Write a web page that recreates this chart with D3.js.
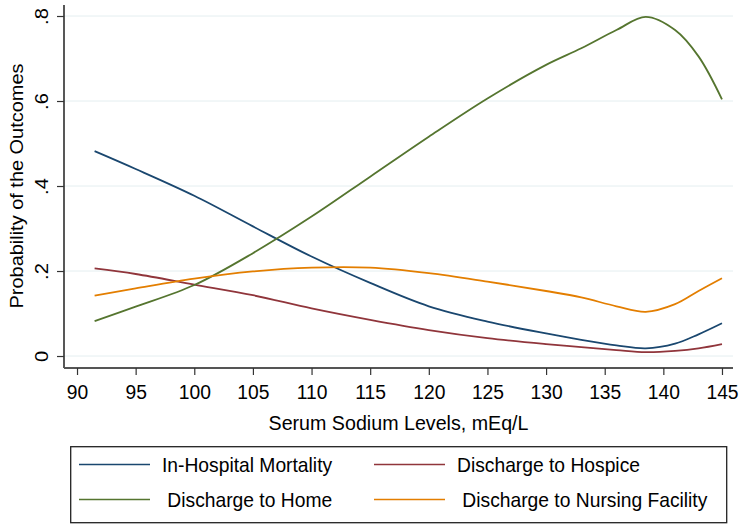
<!DOCTYPE html>
<html>
<head>
<meta charset="utf-8">
<script src="https://cdn.jsdelivr.net/npm/d3@7/dist/d3.min.js"></script>
<style>
  html, body { margin: 0; padding: 0; background: #fff; }
  svg { display: block; }
  text { font-family: "Liberation Sans", Arial, "DejaVu Sans", sans-serif; fill: #000; }
</style>
</head>
<body>
<svg id="chart" width="740" height="525"></svg>
<script>
// ---- Data ----
const sodium = [91.5, 95, 100, 105, 110, 115, 120, 125, 130, 133, 136, 138.5, 141, 143, 145];
const mortality = [0.482, 0.440, 0.377, 0.305, 0.234, 0.172, 0.117, 0.081, 0.053, 0.038, 0.025, 0.018, 0.029, 0.051, 0.077];
const hospice   = [0.206, 0.193, 0.168, 0.143, 0.112, 0.085, 0.061, 0.042, 0.028, 0.021, 0.014, 0.009, 0.012, 0.018, 0.028];
const home      = [0.082, 0.116, 0.167, 0.242, 0.328, 0.422, 0.516, 0.606, 0.685, 0.724, 0.767, 0.798, 0.767, 0.705, 0.604];
const nursing   = [0.142, 0.159, 0.182, 0.199, 0.208, 0.208, 0.195, 0.175, 0.153, 0.138, 0.117, 0.104, 0.122, 0.153, 0.183];

const seriesNames = ["In-Hospital Mortality", "Discharge to Hospice", " Discharge to Home", " Discharge to Nursing Facility"];
const seriesColors = ["#1a476f", "#90353b", "#55752f", "#e37e00"];
const xTicks = [90, 95, 100, 105, 110, 115, 120, 125, 130, 135, 140, 145];
const yTicks = [0, 0.2, 0.4, 0.6, 0.8];
const yTickLabels = ["0", ".2", ".4", ".6", ".8"];
const xTitle = "Serum Sodium Levels, mEq/L";
const yTitle = "Probability of the Outcomes";

// ---- Layout ----
const FS = 20.5, SX = 0.94;       // horizontal text: slightly tall glyphs
const svg = d3.select("#chart");
const plot = { left: 64, right: 733, top: 5, bottom: 368 };

const x = d3.scaleLinear().domain([88.89, 145.94]).range([plot.left, plot.right]);
const y = d3.scaleLinear().domain([-0.0282, 0.8259]).range([plot.bottom, plot.top]);

// gridlines
svg.append("g").selectAll("line").data(yTicks).join("line")
  .attr("x1", plot.left).attr("x2", plot.right)
  .attr("y1", d => y(d)).attr("y2", d => y(d))
  .attr("stroke", "#e4eef0").attr("stroke-width", 1);

// y axis
const yAxis = svg.append("g").attr("transform", `translate(${plot.left},0)`)
  .call(d3.axisLeft(y).tickValues(yTicks).tickSize(7).tickFormat((d, i) => yTickLabels[i]));
yAxis.select(".domain").attr("d", `M0,${plot.top}V${plot.bottom}`).attr("stroke", "#111").attr("stroke-width", 1.4);
yAxis.selectAll(".tick line").attr("stroke", "#333").attr("stroke-width", 1.2);
yAxis.selectAll(".tick text")
  .attr("font-size", 19).attr("text-anchor", "middle")
  .attr("x", 0).attr("y", 0).attr("dy", "0em")
  .attr("transform", "translate(-16,0) rotate(-90) scale(1.06,1)");

// x axis
const xAxis = svg.append("g").attr("transform", `translate(0,${plot.bottom})`)
  .call(d3.axisBottom(x).tickValues(xTicks).tickSize(7).tickFormat(d3.format("d")));
xAxis.select(".domain").attr("d", `M${plot.left},0H${plot.right}`).attr("stroke", "#555").attr("stroke-width", 2);
xAxis.selectAll(".tick line").attr("stroke", "#333").attr("stroke-width", 1.2);
xAxis.selectAll(".tick text").attr("font-size", FS).attr("y", 0).attr("dy", "0")
  .attr("transform", `translate(0,31) scale(${SX},1)`);

// axis titles
svg.append("text").attr("transform", `translate(${(plot.left + plot.right) / 2},430) scale(${SX * 1.02},1)`)
  .attr("text-anchor", "middle").attr("font-size", FS).text(xTitle);
svg.append("text").attr("transform", `translate(23,186) rotate(-90) scale(1.05,1)`)
  .attr("text-anchor", "middle").attr("font-size", 19).text(yTitle);

// lines
const allSeries = [mortality, hospice, home, nursing];
const line = d3.line().x((d, i) => x(sodium[i])).y(d => y(d)).curve(d3.curveCatmullRom.alpha(0.5));
svg.append("g").selectAll("path").data(allSeries).join("path")
  .attr("d", d => line(d)).attr("fill", "none")
  .attr("stroke", (d, i) => seriesColors[i]).attr("stroke-width", 1.8);

// legend
const legend = svg.append("g");
legend.append("rect").attr("x", 70.7).attr("y", 446.7).attr("width", 656).attr("height", 76)
  .attr("fill", "#fff").attr("stroke", "#222").attr("stroke-width", 1.3);
const cols = [79, 374];
const rows = [464.5, 499.5];
const items = legend.selectAll("g.item").data(seriesNames).join("g").attr("class", "item")
  .attr("transform", (d, i) => `translate(${cols[i % 2]},${rows[Math.floor(i / 2)]})`);
items.append("line").attr("x1", 0).attr("x2", 71).attr("y1", 0).attr("y2", 0)
  .attr("stroke", (d, i) => seriesColors[i]).attr("stroke-width", 1.6);
items.append("text").attr("transform", `translate(83,7.3) scale(${SX},1)`)
  .attr("font-size", FS).style("white-space", "pre").text(d => d);
</script>
</body>
</html>
